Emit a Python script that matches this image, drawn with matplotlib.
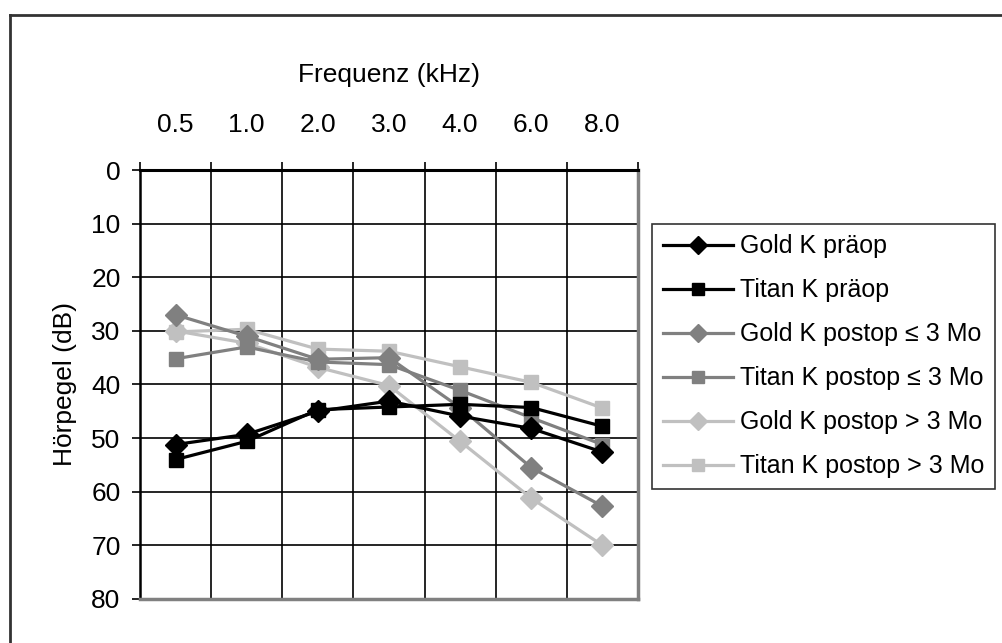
import matplotlib.pyplot as plt
from matplotlib.lines import Line2D
import numpy as np

plt.rcParams['font.family'] = ['Liberation Sans', 'DejaVu Sans']

freqs = ['0.5', '1.0', '2.0', '3.0', '4.0', '6.0', '8.0']

gold_pre = [51.2, 49.3, 45.0, 43.1, 45.9, 48.2, 52.6]
titan_pre = [54.0, 50.6, 44.7, 44.2, 43.7, 44.3, 47.8]
gold_post_early = [27.0, 31.0, 35.3, 35.0, 44.3, 55.5, 62.7]
titan_post_early = [35.2, 33.0, 35.8, 36.3, 41.1, 46.2, 51.2]
gold_post_late = [30.0, 32.3, 36.8, 40.2, 50.6, 61.2, 70.0]
titan_post_late = [30.2, 29.7, 33.4, 33.8, 36.7, 39.6, 44.4]

series = [
    ('Gold K präop', gold_pre, '#000000', 'D'),
    ('Titan K präop', titan_pre, '#000000', 's'),
    ('Gold K postop \u2264 3 Mo', gold_post_early, '#808080', 'D'),
    ('Titan K postop \u2264 3 Mo', titan_post_early, '#808080', 's'),
    ('Gold K postop > 3 Mo', gold_post_late, '#c0c0c0', 'D'),
    ('Titan K postop > 3 Mo', titan_post_late, '#c0c0c0', 's'),
]

fs = 19

fig = plt.figure(figsize=(10.02, 6.43), dpi=100)
ax = fig.add_axes([0.1397, 0.0685, 0.4970, 0.6671])

x = np.arange(len(freqs))
# draw in reverse so the dark series sit on top
handles = []
for label, vals, color, mk in series[::-1]:
    ms = 11.5 if mk == 'D' else 10.5
    h, = ax.plot(x, vals, color=color, lw=2.3, marker=mk, ms=ms,
                 mec=color, mfc=color, label=label)
    handles.append(h)
handles = handles[::-1]

ax.set_xlim(-0.5, len(freqs) - 0.5)
ax.set_ylim(80, 0)
ax.set_yticks(np.arange(0, 81, 10))

ax.xaxis.set_ticks_position('top')
ax.xaxis.set_label_position('top')
ax.set_xticks(x)
ax.set_xticklabels(freqs, fontsize=fs)
ax.set_xticks(np.arange(-0.5, len(freqs)), minor=True)
ax.tick_params(axis='x', which='major', length=0, pad=24)
ax.tick_params(axis='x', which='minor', length=6, width=1.2, color='black', direction='out')
ax.tick_params(axis='y', length=6, width=1.2, labelsize=fs, pad=8)

ax.grid(True, axis='x', which='minor', color='black', lw=1.2)
ax.grid(True, axis='y', which='major', color='black', lw=1.2)
ax.set_axisbelow(True)

for side in ['right', 'bottom']:
    ax.spines[side].set_color('#808080')
    ax.spines[side].set_linewidth(2.5)
ax.spines['top'].set_linewidth(2.2)
ax.spines['left'].set_linewidth(1.8)

ax.set_xlabel('Frequenz (kHz)', fontsize=fs, labelpad=22)
ax.set_ylabel('Hörpegel (dB)', fontsize=fs, labelpad=10)

leg = fig.legend(handles=handles, loc='upper left',
                 bbox_to_anchor=(0.651, 0.652), fontsize=18,
                 frameon=True, fancybox=False, handlelength=2.8,
                 handletextpad=0.3, labelspacing=0.8, borderpad=0.42,
                 borderaxespad=0, markerscale=0.8)
leg.get_frame().set_edgecolor('black')
leg.get_frame().set_linewidth(1.2)

# outer chart border (left and top edges)
fig.add_artist(Line2D([0.0095, 0.0095], [0.0, 0.976], color='#333333', lw=2))
fig.add_artist(Line2D([0.0095, 1.0], [0.976, 0.976], color='#333333', lw=2))

fig.savefig('out.png', dpi=100)
